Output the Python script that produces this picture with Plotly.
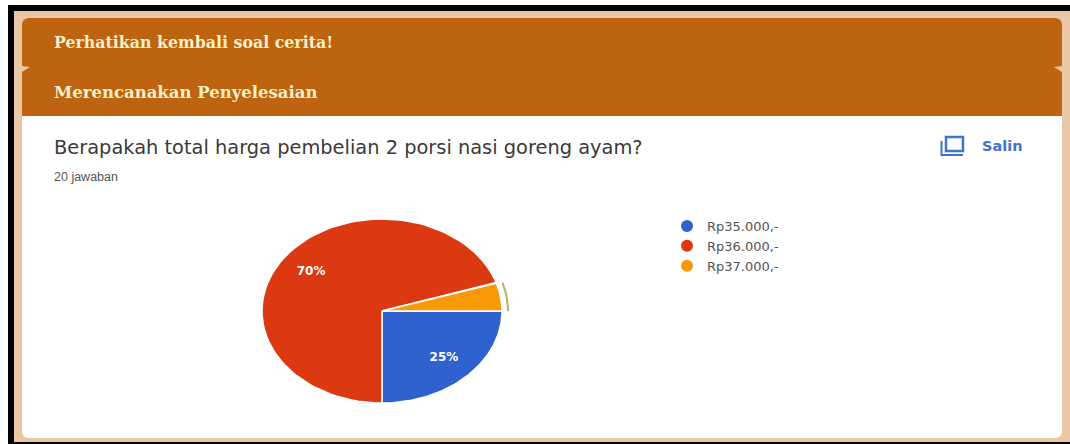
import numpy as np
import plotly.graph_objects as go

# Survey results
categories = ["Rp35.000,-", "Rp36.000,-", "Rp37.000,-"]
shares = [25, 70, 5]
colors = ["#2F62CE", "#DC3912", "#F79A06"]

header_one = "Perhatikan kembali soal cerita!"
header_two = "Merencanakan Penyelesaian"
question = "Berapakah total harga pembelian 2 porsi nasi goreng ayam?"
responses = "20 jawaban"
copy_label = "Salin"

W, H = 1070, 444
ORANGE = "#BE6410"
PEACH = "#EBC7A6"
BLACK = "#000000"
BLUE = "#3F74C9"


def fx(px):
    return px / W


def fy(px):
    return 1 - px / H


def rect(x0, y0, x1, y1, color):
    return dict(type="rect", xref="paper", yref="paper", layer="below",
                x0=fx(x0), x1=fx(x1), y0=fy(y0), y1=fy(y1),
                fillcolor=color, line_width=0)


def rounded(x0, y0, x1, y1, r, color):
    d = (f"M {fx(x0)} {fy(y0 + r)} Q {fx(x0)} {fy(y0)} {fx(x0 + r)} {fy(y0)} "
         f"L {fx(x1 - r)} {fy(y0)} Q {fx(x1)} {fy(y0)} {fx(x1)} {fy(y0 + r)} "
         f"L {fx(x1)} {fy(y1 - r)} Q {fx(x1)} {fy(y1)} {fx(x1 - r)} {fy(y1)} "
         f"L {fx(x0 + r)} {fy(y1)} Q {fx(x0)} {fy(y1)} {fx(x0)} {fy(y1 - r)} Z")
    return dict(type="path", xref="paper", yref="paper", layer="below", path=d,
                fillcolor=color, line_width=0)


def wedge(start, sweep):
    # Angles run clockwise from twelve o'clock, on a unit circle.
    t = np.radians(np.linspace(start, start + sweep, 90))
    return np.r_[0, np.sin(t), 0], np.r_[0, np.cos(t), 0]


fig = go.Figure()

# Slices begin at three o'clock and turn clockwise.
angle = 90.0
for name, share, color in zip(categories, shares, colors):
    sweep = share * 3.6
    xs, ys = wedge(angle, sweep)
    fig.add_trace(go.Scatter(x=xs, y=ys, mode="lines", fill="toself", fillcolor=color,
                             line=dict(color="#FFFFFF", width=1.5),
                             showlegend=False, hoverinfo="skip"))
    if share >= 10:
        mid = np.radians(angle + sweep / 2)
        fig.add_trace(go.Scatter(x=[0.73 * np.sin(mid)], y=[0.73 * np.cos(mid)],
                                 mode="text", text=[f"<b>{share}%</b>"],
                                 textfont=dict(family="DejaVu Sans", size=12, color="#FFFFFF"),
                                 showlegend=False, hoverinfo="skip"))
    else:
        # Small callout arc hugging the thin slice.
        t = np.radians(np.linspace(angle + 1, angle + sweep, 30))
        fig.add_trace(go.Scatter(x=1.05 * np.sin(t), y=1.05 * np.cos(t), mode="lines",
                                 line=dict(color="#B9AE6A", width=2),
                                 showlegend=False, hoverinfo="skip"))
    angle += sweep

# Legend entries with round keys.
for name, color in zip(categories, colors):
    fig.add_trace(go.Scatter(x=[None], y=[None], mode="markers", name=name,
                             marker=dict(color=color, size=12, symbol="circle")))

cx, cy, rx, ry, pad = 382, 311, 120, 92, 1.2
fig.update_xaxes(domain=[fx(cx - rx * pad), fx(cx + rx * pad)], range=[-pad, pad], visible=False)
fig.update_yaxes(domain=[fy(cy + ry * pad), fy(cy - ry * pad)], range=[-pad, pad], visible=False)


def text(s, x, y, family, size, color, bold=False):
    return dict(text=f"<b>{s}</b>" if bold else s, xref="paper", yref="paper",
                x=fx(x), y=fy(y), xanchor="left", yanchor="middle", showarrow=False,
                font=dict(family=family, size=size, color=color))


shapes = [
    rect(0, 0, W, H, "#FFFFFF"),
    rect(8, 5, W, H, BLACK),
    rect(14, 11, W, 442, PEACH),
    rounded(22, 18, 1062, 438, 7, "#FFFFFF"),
    dict(type="path", xref="paper", yref="paper", layer="below", fillcolor=ORANGE, line_width=0,
         path=(f"M {fx(22)} {fy(116)} L {fx(22)} {fy(25)} Q {fx(22)} {fy(18)} {fx(29)} {fy(18)} "
               f"L {fx(1055)} {fy(18)} Q {fx(1062)} {fy(18)} {fx(1062)} {fy(25)} "
               f"L {fx(1062)} {fy(116)} Z")),
    # Small nicks where the two header bands meet.
    dict(type="path", xref="paper", yref="paper", layer="below", fillcolor=PEACH, line_width=0,
         path=f"M {fx(22)} {fy(66)} L {fx(30)} {fy(67)} L {fx(22)} {fy(72)} Z"),
    dict(type="path", xref="paper", yref="paper", layer="below", fillcolor=PEACH, line_width=0,
         path=f"M {fx(1062)} {fy(66)} L {fx(1054)} {fy(67)} L {fx(1062)} {fy(72)} Z"),
    # Copy icon.
    dict(type="rect", xref="paper", yref="paper", x0=fx(946), x1=fx(963), y0=fy(151), y1=fy(137),
         line=dict(color=BLUE, width=2.5)),
    dict(type="path", xref="paper", yref="paper",
         path=f"M {fx(941.5)} {fy(141)} L {fx(941.5)} {fy(155)} L {fx(963)} {fy(155)}",
         line=dict(color=BLUE, width=2)),
]

fig.update_layout(
    width=W, height=H, margin=dict(l=0, r=0, t=0, b=0),
    paper_bgcolor="#FFFFFF", plot_bgcolor="rgba(0,0,0,0)",
    shapes=shapes,
    annotations=[
        text(header_one, 52, 42, "DejaVu Serif", 15.8, "#FBEFC8", True),
        text(header_two, 52, 92, "DejaVu Serif", 16.5, "#FBEFC8", True),
        text(question, 52, 147, "DejaVu Sans", 19.4, "#3A3A3A"),
        text(responses, 52, 177, "Liberation Sans", 12.5, "#555555"),
        text(copy_label, 980, 146, "DejaVu Sans", 14.5, BLUE, True),
    ],
    legend=dict(x=fx(667), y=fy(211), xanchor="left", yanchor="top",
                font=dict(family="DejaVu Sans", size=13, color="#555555"),
                bgcolor="rgba(0,0,0,0)", itemwidth=30, tracegroupgap=0),
    showlegend=True,
    hovermode=False,
)

fig.write_html("out.html", config=dict(displayModeBar=False))
